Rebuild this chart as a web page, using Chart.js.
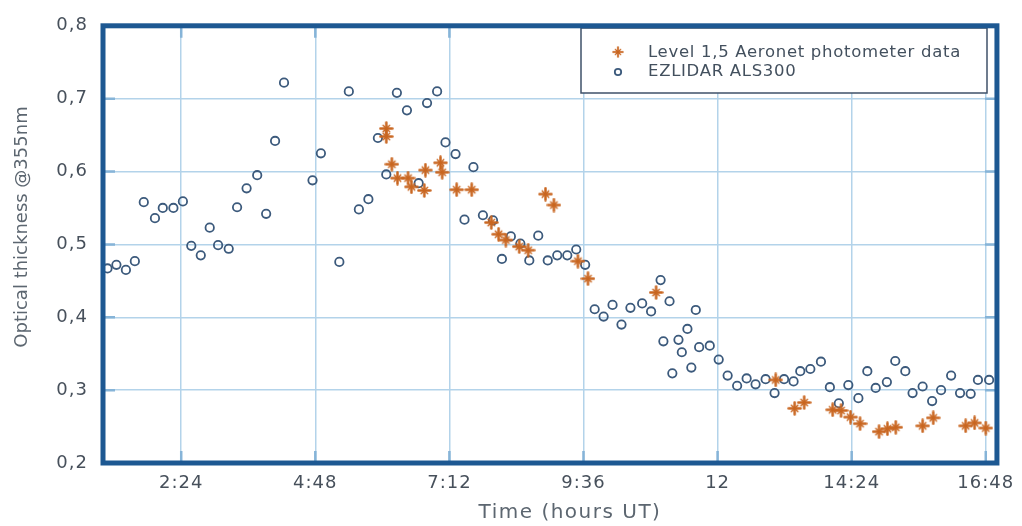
<!DOCTYPE html>
<html>
<head>
<meta charset="utf-8">
<title>Optical thickness @355nm</title>
<script src="https://cdn.jsdelivr.net/npm/chart.js@4/dist/chart.umd.min.js"></script>
<style>
  html, body { margin: 0; padding: 0; background: #ffffff; }
  #wrap { width: 1022px; height: 526px; position: relative; }
</style>
</head>
<body>
<div id="wrap"><canvas id="c" width="1022" height="526"></canvas></div>
<script>
// EZLIDAR ALS300 retrievals: time (decimal hours UT) and optical thickness
const lidarHours = [
  1.08, 1.24, 1.41, 1.57, 1.73, 1.93, 2.07, 2.26, 2.43, 2.58,
  2.75, 2.91, 3.06, 3.25, 3.40, 3.57, 3.76, 3.92, 4.08, 4.24,
  4.75, 4.90, 5.23, 5.40, 5.58, 5.75, 5.92, 6.07, 6.26, 6.44,
  6.65, 6.80, 6.98, 7.13, 7.31, 7.47, 7.63, 7.80, 7.98, 8.14,
  8.30, 8.47, 8.63, 8.79, 8.96, 9.13, 9.31, 9.47, 9.63, 9.80,
  9.96, 10.12, 10.28, 10.44, 10.65, 10.81, 10.98, 11.03, 11.14, 11.19,
  11.30, 11.36, 11.46, 11.53, 11.61, 11.67, 11.86, 12.02, 12.18, 12.35,
  12.52, 12.68, 12.86, 13.02, 13.19, 13.36, 13.48, 13.66, 13.85, 14.01,
  14.17, 14.34, 14.52, 14.68, 14.83, 15.03, 15.18, 15.36, 15.49, 15.67,
  15.84, 16.00, 16.18, 16.34, 16.53, 16.66, 16.86
];
const lidarAod = [
  0.467, 0.472, 0.465, 0.477, 0.558, 0.536, 0.550, 0.550, 0.559, 0.498,
  0.485, 0.523, 0.499, 0.494, 0.551, 0.577, 0.595, 0.542, 0.642, 0.722,
  0.588, 0.625, 0.476, 0.710, 0.548, 0.562, 0.646, 0.596, 0.708, 0.684,
  0.584, 0.694, 0.710, 0.640, 0.624, 0.534, 0.606, 0.540, 0.533, 0.480,
  0.511, 0.501, 0.478, 0.512, 0.478, 0.485, 0.485, 0.493, 0.472, 0.411,
  0.401, 0.417, 0.390, 0.413, 0.419, 0.408, 0.451, 0.367, 0.422, 0.323,
  0.369, 0.352, 0.384, 0.331, 0.410, 0.359, 0.361, 0.342, 0.320, 0.306,
  0.316, 0.308, 0.315, 0.296, 0.315, 0.312, 0.326, 0.329, 0.339, 0.304,
  0.282, 0.307, 0.289, 0.326, 0.303, 0.311, 0.340, 0.326, 0.296, 0.305,
  0.285, 0.300, 0.320, 0.296, 0.295, 0.314, 0.314
];

// Level 1.5 Aeronet photometer: time (decimal hours UT) and optical thickness
const aeronetHours = [
  6.07, 6.07, 6.17, 6.27, 6.46, 6.52, 6.75, 6.77, 7.04, 7.07,
  7.33, 7.60, 7.95, 8.08, 8.21, 8.45, 8.61, 8.92, 9.07, 9.50,
  9.68, 10.90, 13.04, 13.38, 13.55, 14.06, 14.21, 14.38, 14.55, 14.89,
  15.04, 15.19, 15.67, 15.86, 16.44, 16.60, 16.80
];
const aeronetAod = [
  0.659, 0.648, 0.610, 0.591, 0.591, 0.579, 0.574, 0.602, 0.612, 0.599,
  0.575, 0.575, 0.530, 0.514, 0.506, 0.497, 0.492, 0.569, 0.554, 0.477,
  0.453, 0.434, 0.314, 0.275, 0.283, 0.273, 0.272, 0.263, 0.254, 0.243,
  0.247, 0.249, 0.251, 0.262, 0.251, 0.255, 0.248
];

// Axis ticks
const timeTicks = [2.4, 4.8, 7.2, 9.6, 12, 14.4, 16.8];
const timeTickLabels = ['2:24', '4:48', '7:12', '9:36', '12', '14:24', '16:48'];
const aodTicks = [0.2, 0.3, 0.4, 0.5, 0.6, 0.7, 0.8];
const aodTickLabels = ['0,2', '0,3', '0,4', '0,5', '0,6', '0,7', '0,8'];

const seriesNames = ['Level 1,5 Aeronet photometer data', 'EZLIDAR ALS300'];

const FONT = '"DejaVu Sans", sans-serif';
const FRAME = '#1d5892';
const GRID = '#b3d3ea';
const INNER_TICK = '#86b4d8';
const LABEL = '#47505b';
const TITLE = '#5c6670';
const STAR = '#c96620';
const RING = '#3c5a7c';

// Asterisk marker for the photometer series
function makeStar(size) {
  const c = document.createElement('canvas');
  c.width = size; c.height = size;
  const g = c.getContext('2d');
  const m = size / 2;
  g.strokeStyle = STAR;
  g.lineCap = 'round';
  g.lineWidth = 2.5;
  g.beginPath();
  g.moveTo(m, 1.5); g.lineTo(m, size - 1.5);
  g.moveTo(1.5, m); g.lineTo(size - 1.5, m);
  g.stroke();
  g.lineWidth = 1.4;
  const d = size * 0.22;
  g.beginPath();
  g.moveTo(m - d, m - d); g.lineTo(m + d, m + d);
  g.moveTo(m - d, m + d); g.lineTo(m + d, m - d);
  g.stroke();
  return c;
}
const starMark = makeStar(15);

const toPoints = (xs, ys) => xs.map((x, i) => ({ x: x, y: ys[i] }));

// Slightly tracked lettering for every label on the canvas
const tracking = {
  id: 'tracking',
  beforeDraw(chart) { chart.ctx.letterSpacing = '1px'; }
};

// Frame, inner tick marks, legend box and axis titles
const decor = {
  id: 'decor',
  afterDatasetsDraw(chart) {
    const { ctx, chartArea: a, scales } = chart;
    const xs = scales.x, ys = scales.y;
    ctx.save();

    // short inner tick marks on all four sides
    ctx.strokeStyle = INNER_TICK;
    ctx.lineWidth = 2.5;
    const L = 12;
    ctx.beginPath();
    timeTicks.forEach(v => {
      const px = xs.getPixelForValue(v);
      ctx.moveTo(px, a.top); ctx.lineTo(px, a.top + L);
      ctx.moveTo(px, a.bottom); ctx.lineTo(px, a.bottom - L);
    });
    aodTicks.slice(1, -1).forEach(v => {
      const py = ys.getPixelForValue(v);
      ctx.moveTo(a.left, py); ctx.lineTo(a.left + L, py);
      ctx.moveTo(a.right, py); ctx.lineTo(a.right - L, py);
    });
    ctx.stroke();

    // legend box
    const bx = 581, by = 28, bw = 406, bh = 65;
    ctx.fillStyle = '#ffffff';
    ctx.fillRect(bx, by, bw, bh);
    ctx.strokeStyle = '#3f5169';
    ctx.lineWidth = 1.5;
    ctx.strokeRect(bx, by, bw, bh);
    ctx.drawImage(starMark, 618 - 6, 52 - 6, 12, 12);
    ctx.strokeStyle = RING;
    ctx.lineWidth = 1.8;
    ctx.beginPath();
    ctx.arc(618, 72, 3.2, 0, Math.PI * 2);
    ctx.stroke();
    ctx.fillStyle = '#43505e';
    ctx.font = '16.5px ' + FONT;
    ctx.letterSpacing = '0.7px';
    ctx.textAlign = 'left';
    ctx.textBaseline = 'middle';
    ctx.fillText(seriesNames[0], 648, 53);
    ctx.fillText(seriesNames[1], 648, 72);

    // thick frame around the plot area
    ctx.strokeStyle = FRAME;
    ctx.lineWidth = 5;
    ctx.strokeRect(a.left, a.top, a.right - a.left, a.bottom - a.top);

    // axis titles
    ctx.fillStyle = TITLE;
    ctx.textAlign = 'center';
    ctx.textBaseline = 'middle';
    ctx.font = '20px ' + FONT;
    ctx.letterSpacing = '1.5px';
    ctx.fillText('Time (hours UT)', 570, 513);
    ctx.font = '18px ' + FONT;
    ctx.letterSpacing = '0px';
    ctx.translate(22, 227);
    ctx.rotate(-Math.PI / 2);
    ctx.fillText('Optical thickness @355nm', 0, 0);
    ctx.restore();
  }
};

new Chart(document.getElementById('c'), {
  type: 'scatter',
  data: {
    datasets: [
      {
        label: seriesNames[0],
        data: toPoints(aeronetHours, aeronetAod),
        pointStyle: starMark,
        pointRadius: 7,
        order: 1
      },
      {
        label: seriesNames[1],
        data: toPoints(lidarHours, lidarAod),
        pointStyle: 'circle',
        pointRadius: 4.2,
        borderWidth: 1.8,
        borderColor: RING,
        backgroundColor: 'rgba(255,255,255,0)',
        order: 2
      }
    ]
  },
  options: {
    responsive: false,
    animation: false,
    events: [],
    layout: { padding: { top: 20, right: 24, left: 0, bottom: 0 } },
    plugins: { legend: { display: false }, tooltip: { enabled: false } },
    scales: {
      x: {
        type: 'linear',
        min: 1,
        max: 17,
        afterFit(s) { s.height = 63; },
        afterBuildTicks(s) { s.ticks = timeTicks.map(v => ({ value: v })); },
        grid: { color: GRID, lineWidth: 1.5, drawTicks: false },
        border: { display: false },
        ticks: {
          padding: 10,
          color: LABEL,
          font: { family: FONT, size: 18 },
          maxRotation: 0,
          callback: (v) => {
            const i = timeTicks.findIndex(t => Math.abs(t - v) < 1e-6);
            return i >= 0 ? timeTickLabels[i] : '';
          }
        }
      },
      y: {
        type: 'linear',
        min: 0.2,
        max: 0.8,
        afterFit(s) { s.width = 103; },
        afterBuildTicks(s) { s.ticks = aodTicks.map(v => ({ value: v })); },
        grid: { color: GRID, lineWidth: 1.5, drawTicks: false },
        border: { display: false },
        ticks: {
          padding: 15,
          color: LABEL,
          font: { family: FONT, size: 18 },
          callback: (v) => {
            const i = aodTicks.findIndex(t => Math.abs(t - v) < 1e-6);
            return i >= 0 ? aodTickLabels[i] : '';
          }
        }
      }
    }
  },
  plugins: [tracking, decor]
});
</script>
</body>
</html>
